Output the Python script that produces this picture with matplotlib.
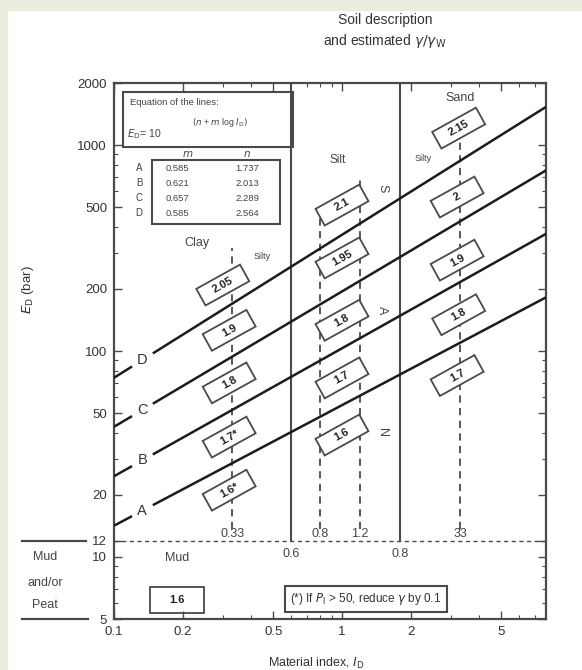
import numpy as np
import matplotlib
matplotlib.use("Agg")
import matplotlib.pyplot as plt
from matplotlib.patches import Rectangle
from matplotlib.transforms import Affine2D, ScaledTranslation

plt.rcParams['font.family'] = ['Liberation Sans', 'DejaVu Sans']

# lines E_D = 10^(n + m log I_D)
line_names = ['A', 'B', 'C', 'D']
m_vals = [0.585, 0.621, 0.657, 0.694]
n_vals = [1.737, 2.013, 2.289, 2.564]
# table as printed
table_m = ['0.585', '0.621', '0.657', '0.585']
table_n = ['1.737', '2.013', '2.289', '2.564']

# soil boundaries
solid_x = [0.6, 1.8]
solid_lab = ['0.6', '0.8']
dash_x = [0.33, 0.8, 1.2, 3.3]
dash_top = [316, 503, 702, 1450]
dash_lab = ['0.33', '0.8', '1.2', '33']

# gamma boxes (x, y, text)
box_x = [0.30, 0.32, 0.32, 0.32, 0.32,
         1.0, 1.0, 1.0, 1.0, 1.0,
         3.25, 3.2, 3.2, 3.25, 3.2]
box_y = [209, 126, 70, 38.2, 21.1,
         511, 283, 141, 74, 39.1,
         1208, 559, 276, 150, 76]
box_txt = ['2.05', '1.9', '1.8', '1.7*', '1.6*',
           '2.1', '1.95', '1.8', '1.7', '1.6',
           '2.15', '2', '1.9', '1.8', '1.7']

xmin, xmax = 0.1, 7.85
ymin, ymax = 5, 2000
ink = '#1c1c1c'
grey = '#4a4a4a'

fig = plt.figure(figsize=(5.82, 6.70), dpi=100)
fig.patches.append(Rectangle((0, 1 - 10 / 670), 1, 10 / 670, transform=fig.transFigure,
                             color='#ececdf', zorder=-5))
fig.patches.append(Rectangle((0, 0), 7 / 582, 1, transform=fig.transFigure,
                             color='#ececdf', zorder=-5))
ax = fig.add_axes([114 / 582, 1 - 619 / 670, 432 / 582, 536 / 670])
ax.set_xscale('log')
ax.set_yscale('log')
ax.set_xlim(xmin, xmax)
ax.set_ylim(ymin, ymax)

for s in ax.spines.values():
    s.set_color(grey)
    s.set_linewidth(1.6)
ax.tick_params(which='both', direction='in', top=True, right=True, colors=grey,
               labelcolor='#333333', labelsize=9.5)
ax.tick_params(which='major', length=6, width=1, pad=5)
ax.tick_params(which='minor', length=3, width=0.8)
xt = [0.1, 0.2, 0.5, 1, 2, 5]
ax.set_xticks(xt)
ax.set_xticklabels(['0.1', '0.2', '0.5', '1', '2', '5'])
yt = [5, 10, 12, 20, 50, 100, 200, 500, 1000, 2000]
ax.set_yticks(yt)
ax.set_yticklabels([str(v) for v in yt])

# lines with a gap for the letter
gap0, gap1, labx = 0.12, 0.148, 0.133
for name, m, n in zip(line_names, m_vals, n_vals):
    f = lambda x: 10 ** (n + m * np.log10(x))
    x1 = np.array([xmin, gap0])
    x2 = np.array([gap1, xmax])
    ax.plot(x1, f(x1), color=ink, lw=1.8, solid_capstyle='butt', zorder=3)
    ax.plot(x2, f(x2), color=ink, lw=1.8, solid_capstyle='butt', zorder=3)
    ax.text(labx, f(labx), name, ha='center', va='center', fontsize=10.5, color='#333333')

# soil boundaries
for x, lab in zip(solid_x, solid_lab):
    ax.plot([x, x], [12, ymax], color=grey, lw=1.5, zorder=2)
    ax.text(x, 10.3, lab, ha='center', va='center', fontsize=9, color='#444444')
for x, top, lab in zip(dash_x, dash_top, dash_lab):
    ax.plot([x, x], [13.6, top], color=grey, lw=1.3, dashes=(4, 3), zorder=1)
    ax.text(x, 12.15, lab, ha='center', va='bottom', fontsize=9, color='#444444')
ax.axhline(12, color=grey, lw=1, dashes=(3, 2.5))

# rotated boxes
ang = 29
for x, y, t in zip(box_x, box_y, box_txt):
    tr = Affine2D().rotate_deg(ang) + ScaledTranslation(x, y, ax.transData)
    ax.add_patch(Rectangle((-25, -9.5), 50, 19, transform=tr, fc='white',
                           ec=grey, lw=1.3, zorder=4))
    ax.text(x, y, t, rotation=ang, rotation_mode='anchor', ha='center', va='center',
            fontsize=8, fontweight='bold', color='#222222', zorder=5)

# soil names
ax.text(0.231, 334, 'Clay', ha='center', va='center', fontsize=9, color='#444444')
ax.text(0.446, 286, 'Silty', ha='center', va='center', fontsize=6.5, color='#444444')
ax.text(0.96, 845, 'Silt', ha='center', va='center', fontsize=8.5, color='#444444')
ax.text(2.27, 862, 'Silty', ha='center', va='center', fontsize=6.5, color='#444444')
ax.text(3.3, 1690, 'Sand', ha='center', va='center', fontsize=9, color='#444444')
for t, y in zip(['S', 'A', 'N'], [617, 158, 40]):
    ax.text(1.5, y, t, rotation=-90, ha='center', va='center', fontsize=9, color='#444444')

# equation box and table
ax.add_patch(Rectangle((0.021, 0.881), 0.393, 0.102, transform=ax.transAxes,
                       fill=False, ec=grey, lw=1.5))
ax.text(0.037, 0.963, 'Equation of the lines:', transform=ax.transAxes, fontsize=6.8,
        va='center', color='#444444')
ax.text(0.030, 0.905, '$E_\\mathrm{D}$= 10', transform=ax.transAxes, fontsize=7.5,
        va='center', color='#444444')
ax.text(0.18, 0.927, '$(n$ + $m$ log $I_\\mathrm{D})$', transform=ax.transAxes, fontsize=6.3,
        va='center', color='#444444')
ax.add_patch(Rectangle((0.088, 0.737), 0.296, 0.119, transform=ax.transAxes,
                       fill=False, ec=grey, lw=1.5))
ax.text(0.171, 0.868, '$m$', transform=ax.transAxes, fontsize=7.5, ha='center', va='center',
        color='#444444')
ax.text(0.308, 0.868, '$n$', transform=ax.transAxes, fontsize=7.5, ha='center', va='center',
        color='#444444')
row_y = [0.841, 0.813, 0.785, 0.757]
for name, tm, tn, yy in zip(line_names, table_m, table_n, row_y):
    ax.text(0.058, yy, name, transform=ax.transAxes, fontsize=7, ha='center', va='center',
            color='#444444')
    ax.text(0.146, yy, tm, transform=ax.transAxes, fontsize=6.8, ha='center', va='center',
            color='#444444')
    ax.text(0.308, yy, tn, transform=ax.transAxes, fontsize=6.8, ha='center', va='center',
            color='#444444')

# mud zone
ax.text(0.189, 9.9, 'Mud', ha='center', va='center', fontsize=9, color='#444444')
tr = ScaledTranslation(0.189, 6.18, ax.transData)
ax.add_patch(Rectangle((-27, -13), 54, 26, transform=tr, fc='white', ec=grey, lw=1.3))
ax.text(0.189, 6.18, '1.6', ha='center', va='center', fontsize=8, fontweight='bold',
        color='#222222')
ax.text(1.27, 6.25, '(*) If $P_\\mathrm{I}$ > 50, reduce $\\gamma$ by 0.1', ha='center',
        va='center', fontsize=8.5, color='#333333',
        bbox=dict(boxstyle='square,pad=0.45', fc='white', ec=grey, lw=1.5))

# outside markers for 12 and 5
for yv, x1 in [(12, 86), (5, 88)]:
    ax.plot([(22 - 114) / 432, (x1 - 114) / 432], [yv, yv], color=grey, lw=1.6,
            transform=ax.get_yaxis_transform(), clip_on=False)
fig.text(45 / 582, 1 - 557 / 670, 'Mud', ha='center', va='center', fontsize=9, color='#444444')
fig.text(45 / 582, 1 - 583 / 670, 'and/or', ha='center', va='center', fontsize=9, color='#444444')
fig.text(45 / 582, 1 - 605 / 670, 'Peat', ha='center', va='center', fontsize=9, color='#444444')

# titles and axis labels
fig.text(385 / 582, 1 - 20 / 670, 'Soil description', ha='center', va='center', fontsize=10,
         color='#333333')
fig.text(385 / 582, 1 - 41 / 670, 'and estimated $\\gamma/\\gamma_\\mathrm{W}$', ha='center',
         va='center', fontsize=10, color='#333333')
fig.text(28 / 582, 1 - 290 / 670, '$E_\\mathrm{D}$ (bar)', rotation=90, ha='center',
         va='center', fontsize=9.5, color='#333333')
fig.text(316 / 582, 1 - 663 / 670, 'Material index, $I_\\mathrm{D}$', ha='center',
         va='center', fontsize=9, color='#333333')

fig.savefig('out.png', dpi=100)
